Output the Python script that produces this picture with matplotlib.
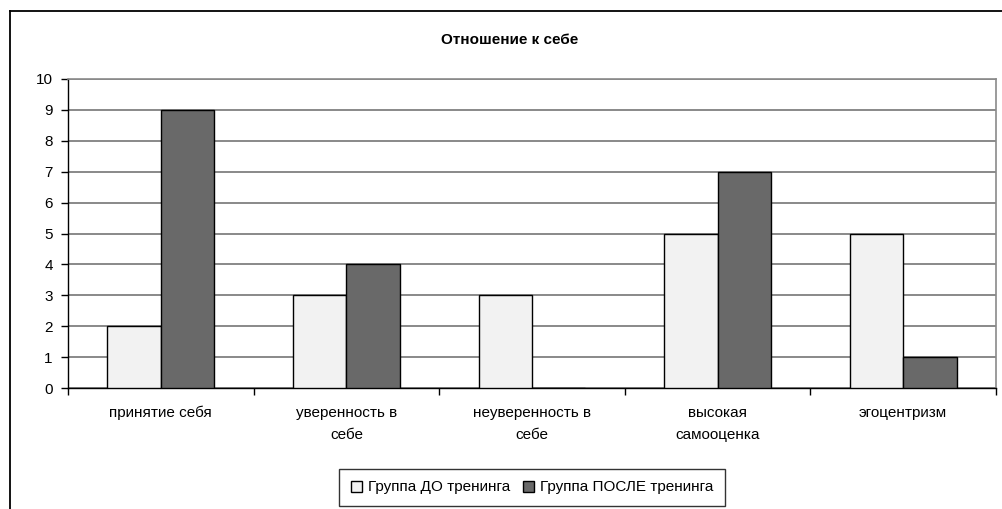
import matplotlib
matplotlib.use("Agg")
import matplotlib.pyplot as plt
import numpy as np
from matplotlib.lines import Line2D

plt.rcParams['font.family'] = ['Liberation Sans', 'DejaVu Sans']

categories = ["принятие себя", "уверенность в\nсебе", "неуверенность в\nсебе",
              "высокая\nсамооценка", "эгоцентризм"]
before = [2, 3, 3, 5, 5]
after = [9, 4, 0, 7, 1]
series_names = ["Группа ДО тренинга", "Группа ПОСЛЕ тренинга"]
yticks = list(range(0, 11))

fig = plt.figure(figsize=(10.02, 5.09), dpi=100)
ax = fig.add_axes([68 / 1002, 1 - 388 / 509, (996 - 68) / 1002, (388 - 79) / 509])

x = np.arange(len(categories))
w = 0.288
ax.bar(x - w / 2, before, w, color="#f2f2f2", edgecolor="black", linewidth=1.0,
       label=series_names[0], zorder=3)
ax.bar(x + w / 2, after, w, color="#696969", edgecolor="black", linewidth=1.0,
       label=series_names[1], zorder=3)

ax.set_xlim(-0.5, len(categories) - 0.5)
ax.set_ylim(0, 10)
ax.set_yticks(yticks)
ax.yaxis.grid(True, color="#6a6a6a", linewidth=1.1, zorder=1)
ax.tick_params(axis="y", direction="out", length=5, width=1, pad=6, labelsize=11)

ax.set_xticks(np.arange(-0.5, len(categories), 1.0))
ax.set_xticklabels([])
ax.set_xticks(x, minor=True)
ax.set_xticklabels(categories, minor=True, fontsize=11, linespacing=1.75)
ax.tick_params(axis="x", which="major", direction="out", length=5, width=1)
ax.tick_params(axis="x", which="minor", length=0, pad=13)

for s in ["left", "bottom"]:
    ax.spines[s].set_color("black")
    ax.spines[s].set_linewidth(1.0)
for s in ["top", "right"]:
    ax.spines[s].set_color("#8a8a8a")
    ax.spines[s].set_linewidth(1.2)

fig.text(510 / 1002, 1 - 40 / 509, "Отношение к себе", ha="center", va="center",
         fontsize=11, fontweight="bold")

# outer chart frame
fig.add_artist(Line2D([10 / 1002, 10 / 1002], [0, 1 - 11 / 509], transform=fig.transFigure,
                      color="black", linewidth=1.3))
fig.add_artist(Line2D([10 / 1002, 1], [1 - 11 / 509, 1 - 11 / 509], transform=fig.transFigure,
                      color="black", linewidth=1.3))

leg = fig.legend(loc="center", bbox_to_anchor=(532 / 1002, 1 - 487.5 / 509),
                 ncol=2, frameon=True, fancybox=False, fontsize=11,
                 handlelength=0.75, handleheight=0.75, handletextpad=0.4, columnspacing=0.8,
                 borderpad=0.75, borderaxespad=0, edgecolor="black")
leg.get_frame().set_linewidth(1.0)

fig.savefig("out.png", dpi=100)
